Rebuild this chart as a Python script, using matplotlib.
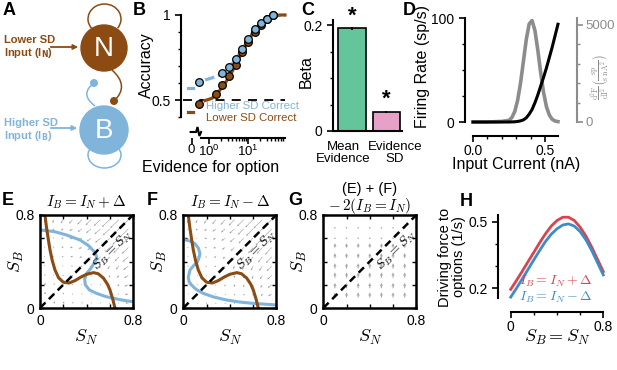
import numpy as np
import matplotlib
matplotlib.use('Agg')
import matplotlib.pyplot as plt
import matplotlib.transforms as mtransforms
from matplotlib.patches import Circle, Arc, FancyArrowPatch, PathPatch
from matplotlib.path import Path

plt.rcParams['font.family'] = ['Liberation Sans', 'DejaVu Sans']
plt.rcParams['mathtext.fontset'] = 'cm'
plt.rcParams['axes.linewidth'] = 1.5
plt.rcParams['xtick.major.width'] = 1.2
plt.rcParams['ytick.major.width'] = 1.2
plt.rcParams['xtick.minor.width'] = 1.0
plt.rcParams['ytick.minor.width'] = 1.0
plt.rcParams['xtick.major.size'] = 4
plt.rcParams['ytick.major.size'] = 4
plt.rcParams['xtick.minor.size'] = 2.5
plt.rcParams['ytick.minor.size'] = 2.5
plt.rcParams['xtick.labelsize'] = 10
plt.rcParams['ytick.labelsize'] = 10

BROWN = '#8b4b12'
LBLUE = '#80b4da'
RED = '#d8434f'
BLUE = '#3c8dc5'
GRAY = '#8c8c8c'

# ---------------- data ----------------
# B: accuracy vs evidence (zero-evidence values kept separately)
ev_blue = [2.2, 3.3, 4.9, 6.9, 10.2, 15, 22, 31, 43]
acc_blue = [0.661, 0.696, 0.739, 0.798, 0.857, 0.916, 0.951, 0.976, 1.0]
ev_brown = [1.5, 2.2, 3.3, 4.9, 6.9, 10, 15, 22, 31, 43]
acc_brown = [0.535, 0.588, 0.641, 0.706, 0.784, 0.843, 0.902, 0.941, 0.975, 1.0]
acc0_blue = 0.608
acc0_brown = 0.475
fit_ev = [0.8, 1.2, 1.8, 2.7, 4, 6, 9, 13, 20, 30, 45, 70, 89]
fit_blue = [0.618, 0.63, 0.645, 0.675, 0.715, 0.77, 0.835, 0.895, 0.945, 0.978, 0.995, 1.0, 1.0]
fit_brown = [0.497, 0.51, 0.55, 0.605, 0.67, 0.75, 0.825, 0.89, 0.94, 0.975, 0.995, 1.0, 1.0]
fit0_blue = 0.57
fit0_brown = 0.43
legend_B = ['Higher SD Correct', 'Lower SD Correct']

# C: regression weights
beta_labels = ['Mean\nEvidence', 'Evidence\nSD']
beta_vals = [0.194, 0.036]
beta_err = [0.002, 0.002]
beta_colors = ['#64c49c', '#e7a1c9']

# D: transfer function and its second derivative
current = [0.0, 0.1, 0.2, 0.25, 0.27, 0.29, 0.31, 0.33, 0.35, 0.37, 0.39, 0.41,
           0.43, 0.45, 0.47, 0.49, 0.51, 0.53, 0.55, 0.57, 0.59]
rate = [0, 0, 0, 0, 0.1, 0.2, 0.5, 1.1, 2, 4, 7.5, 12,
        18.5, 26, 34.5, 43, 52, 62, 72, 83, 94]
d2f = [0, 0, 30, 85, 230, 540, 1120, 2000, 3120, 4250, 5050, 5230,
       4720, 3710, 2540, 1520, 790, 360, 140, 50, 20]

# E/F: nullclines (S_N, S_B)
nullN_sn = [0.043, 0.055, 0.07, 0.086, 0.105, 0.129, 0.16, 0.2, 0.25, 0.3, 0.35,
            0.4, 0.46, 0.5, 0.545, 0.58, 0.602, 0.625, 0.645]
nullN_sb = [0.8, 0.7, 0.6, 0.5, 0.41, 0.327, 0.26, 0.222, 0.215, 0.235, 0.265,
            0.29, 0.304, 0.295, 0.258, 0.205, 0.155, 0.08, 0.0]
nullBE_sn = [0.0, 0.12, 0.229, 0.344, 0.42, 0.47, 0.488, 0.475, 0.44, 0.4, 0.384,
             0.39, 0.425, 0.487, 0.56, 0.631, 0.72, 0.8]
nullBE_sb = [0.671, 0.658, 0.628, 0.585, 0.535, 0.48, 0.44, 0.4, 0.345, 0.295, 0.247,
             0.2, 0.155, 0.126, 0.1, 0.083, 0.066, 0.054]
nullBF_sn = [0.006, 0.06, 0.1, 0.13, 0.143, 0.135, 0.12, 0.085, 0.057, 0.043, 0.05,
             0.071, 0.11, 0.171, 0.26, 0.371, 0.48, 0.6, 0.8]
nullBF_sb = [0.589, 0.575, 0.554, 0.515, 0.469, 0.43, 0.397, 0.36, 0.326, 0.263, 0.225,
             0.197, 0.16, 0.126, 0.095, 0.069, 0.052, 0.04, 0.026]

# E/F: flow field, dS_N/dt on grid (rows: S_B, cols: S_N); dS_B/dt by symmetry + input term
QGRID = [0.04, 0.12, 0.20, 0.28, 0.36, 0.44, 0.52, 0.60, 0.68, 0.76]
U_N = [
    [0.03, 0.03, 0.03, 0.02, 0.015, 0.015, 0.02, 0.015, -0.03, -0.09],
    [0.03, 0.025, 0.02, 0.01, 0.005, 0.01, 0.015, 0.005, -0.04, -0.10],
    [0.025, 0.015, 0.0, -0.01, -0.01, 0.0, 0.005, -0.01, -0.05, -0.11],
    [0.015, -0.005, -0.02, -0.025, -0.01, 0.0, -0.005, -0.025, -0.065, -0.12],
    [0.01, -0.015, -0.035, -0.045, -0.045, -0.04, -0.045, -0.06, -0.09, -0.14],
    [0.005, -0.025, -0.045, -0.06, -0.07, -0.075, -0.085, -0.1, -0.12, -0.16],
    [0.0, -0.03, -0.055, -0.075, -0.09, -0.105, -0.12, -0.135, -0.155, -0.18],
    [-0.005, -0.035, -0.06, -0.085, -0.105, -0.125, -0.145, -0.165, -0.185, -0.21],
    [-0.01, -0.04, -0.065, -0.09, -0.115, -0.14, -0.165, -0.19, -0.215, -0.24],
    [-0.01, -0.04, -0.07, -0.095, -0.125, -0.155, -0.185, -0.215, -0.245, -0.27],
]
DV_E = [0.03, 0.028, 0.026, 0.024, 0.021, 0.018, 0.015, 0.012, 0.009, 0.006]
DV_F = [-0.02, -0.019, -0.018, -0.016, -0.014, -0.012, -0.01, -0.008, -0.006, -0.004]

# G: net extra drive to B (vertical only)
G_X = [0.1, 0.2, 0.3, 0.4, 0.5, 0.6, 0.7]
G_Y = [0.09, 0.17, 0.26, 0.34, 0.43, 0.52, 0.60, 0.69]
G_V = [0.030, 0.031, 0.031, 0.030, 0.028, 0.025, 0.006, 0.003]

# H: driving force along diagonal
H_S = [0, 0.05, 0.1, 0.15, 0.2, 0.25, 0.3, 0.35, 0.4, 0.45, 0.5, 0.55, 0.6, 0.65, 0.7, 0.75, 0.8]
H_plus = [0.195, 0.235, 0.277, 0.32, 0.362, 0.405, 0.445, 0.48, 0.505, 0.52, 0.52,
          0.505, 0.475, 0.435, 0.385, 0.33, 0.275]
H_minus = [0.16, 0.2, 0.242, 0.285, 0.328, 0.37, 0.41, 0.443, 0.468, 0.485, 0.49,
           0.48, 0.455, 0.418, 0.37, 0.315, 0.26]

# ---------------- figure ----------------
W, H = 617, 370
fig = plt.figure(figsize=(W / 100, H / 100), dpi=100)


def box(x0, y0, x1, y1):
    # pixel box (top-left origin) -> figure fraction
    return [x0 / W, 1 - y1 / H, (x1 - x0) / W, (y1 - y0) / H]


def ftext(x, y, s, **kw):
    return fig.text(x / W, 1 - y / H, s, **kw)


for lab, x, y in [('A', 3, 2), ('B', 133, 2), ('C', 301, 2), ('D', 403, 2),
                  ('E', 2, 192), ('F', 147, 192), ('G', 288, 192), ('H', 460, 193)]:
    ftext(x, y, lab, fontsize=13, fontweight='bold', va='top')

# ---- A: circuit schematic ----
axA = fig.add_axes(box(0, 0, 140, 185))
axA.set_xlim(0, 140)
axA.set_ylim(0, 185)
axA.axis('off')


def yA(y):
    return 185 - y


axA.add_patch(Circle((104, yA(48)), 23, color=BROWN, zorder=3))
axA.add_patch(Circle((104, yA(130)), 24, color=LBLUE, zorder=3))
axA.text(104, yA(49), 'N', color='white', fontsize=20, ha='center', va='center', zorder=4)
axA.text(104, yA(131), 'B', color='white', fontsize=20, ha='center', va='center', zorder=4)
axA.add_patch(Arc((104.5, yA(19)), 33, 30, theta1=-35, theta2=217, color=BROWN, lw=1.1))
axA.add_patch(Arc((104.5, yA(155)), 33, 26, theta1=147, theta2=30, color=LBLUE, lw=1.1))
pb = Path([(112, yA(70)), (130, yA(86)), (114, yA(101))], [Path.MOVETO, Path.CURVE3, Path.CURVE3])
axA.add_patch(PathPatch(pb, fc='none', ec=BROWN, lw=1.1))
axA.add_patch(Circle((114, yA(101)), 3.3, color=BROWN))
pl = Path([(95, yA(106)), (79, yA(94)), (94, yA(83))], [Path.MOVETO, Path.CURVE3, Path.CURVE3])
axA.add_patch(PathPatch(pl, fc='none', ec=LBLUE, lw=1.1))
axA.add_patch(Circle((94, yA(83)), 3.3, color=LBLUE))
axA.add_patch(FancyArrowPatch((48, yA(47)), (81, yA(47)), arrowstyle='-|>',
                              mutation_scale=7, color=BROWN, lw=1.3))
axA.add_patch(FancyArrowPatch((48, yA(128)), (80, yA(128)), arrowstyle='-|>',
                              mutation_scale=7, color=LBLUE, lw=1.3))
axA.text(4, yA(40), 'Lower SD', color=BROWN, fontsize=8, fontweight='bold', va='center')
axA.text(4, yA(53), r'Input (I$_{\mathbf{N}}$)', color=BROWN, fontsize=8, fontweight='bold',
         va='center', math_fontfamily='dejavusans')
axA.text(4, yA(123), 'Higher SD', color=LBLUE, fontsize=8, fontweight='bold', va='center')
axA.text(4, yA(136), r'Input (I$_{\mathbf{B}}$)', color=LBLUE, fontsize=8, fontweight='bold',
         va='center', math_fontfamily='dejavusans')

# ---- B: psychometric curves ----
ZERO_X = 0.36        # axis position standing for zero evidence
ZERO_PT = 0.56       # where zero-evidence points sit
axB = fig.add_axes(box(184, 15, 285, 117))
axB.set_xscale('log')
axB.set_xlim(0.23, 89)
axB.set_ylim(0.4, 1.0)
for s in ['top', 'right']:
    axB.spines[s].set_visible(False)
axB.spines['left'].set_position(('outward', 2))
axB.spines['bottom'].set_position(('outward', 15))
axB.spines['bottom'].set_bounds(0.63, 89)
axB.set_yticks([0.5, 1.0])
axB.set_yticklabels(['0.5', '1'])
axB.set_yticks([0.4, 0.6, 0.7, 0.8, 0.9], minor=True)
axB.set_xticks([ZERO_X, 1, 10])
axB.set_xticklabels(['0', r'$\mathdefault{10^{0}}$', r'$\mathdefault{10^{1}}$'])
axB.set_xticks([2, 3, 4, 5, 6, 7, 8, 9, 20, 30, 40, 50, 60, 70, 80], minor=True)
axB.xaxis.set_minor_formatter(matplotlib.ticker.NullFormatter())
axB.tick_params(axis='x', which='both', pad=0.5, labelsize=9.5)
tb = mtransforms.blended_transform_factory(axB.transData, axB.transAxes)
yb = -15 / 102
zz = 5 / 102
axB.plot([0.34, 0.47, 0.51, 0.57, 0.63], [yb, yb, yb + zz, yb - zz * 0.8, yb],
         color='black', lw=1.5, transform=tb, clip_on=False, solid_joinstyle='miter')
axB.plot([0.215, 89], [0.5, 0.5], color='black', lw=1.3, ls=(0, (5, 4)), clip_on=False)
axB.plot(fit_ev, fit_blue, color=LBLUE, lw=2.3, ls=(0, (3, 1.2)), clip_on=False, zorder=2)
axB.plot(fit_ev, fit_brown, color=BROWN, lw=2.3, clip_on=False, zorder=2)
axB.plot([0.29, 0.4], [fit0_blue] * 2, color=LBLUE, lw=2.3, clip_on=False)
axB.plot([0.29, 0.4], [fit0_brown] * 2, color=BROWN, lw=2.3, clip_on=False)
axB.plot(ev_brown + [ZERO_PT], acc_brown + [acc0_brown], 'o', color=BROWN, mec='black',
         mew=0.9, ms=5.5, clip_on=False, zorder=3)
axB.plot(ev_blue + [ZERO_PT], acc_blue + [acc0_blue], 'o', color=LBLUE, mec='black',
         mew=0.9, ms=5.5, clip_on=False, zorder=4)
axB.text(0.82, 0.465, legend_B[0], color=LBLUE, fontsize=8.2, va='center', clip_on=False)
axB.text(0.82, 0.394, legend_B[1], color=BROWN, fontsize=8.2, va='center', clip_on=False)
ftext(146, 65, 'Accuracy', fontsize=11.5, rotation=90, ha='center', va='center')
ftext(211, 167, 'Evidence for option', fontsize=11.5, ha='center', va='center')

# ---- C: betas ----
axC = fig.add_axes(box(333, 20, 402, 131))
xc = np.arange(len(beta_vals))
axC.bar(xc, beta_vals, width=0.8, color=beta_colors, edgecolor='black', lw=1.2,
        yerr=beta_err, error_kw=dict(lw=1.2, capsize=0))
axC.set_xlim(-0.55, 1.45)
axC.set_ylim(0, 0.21)
for s in ['top', 'right']:
    axC.spines[s].set_visible(False)
axC.set_yticks([0, 0.2])
axC.set_yticklabels(['0', '0.2'])
axC.set_yticks([0.05, 0.1, 0.15], minor=True)
axC.set_xticks([])
for i, v in enumerate(beta_vals):
    axC.text(xc[i], v + 0.004, '*', fontsize=16, fontweight='bold', ha='center', va='bottom')
ftext(343, 153, beta_labels[0], fontsize=9.5, ha='center', va='center', linespacing=1.05)
ftext(395, 153, beta_labels[1], fontsize=9.5, ha='center', va='center', linespacing=1.05)
ftext(306, 72, 'Beta', fontsize=11.5, rotation=90, ha='center', va='center')

# ---- D: transfer function ----
axD = fig.add_axes(box(473, 18, 559.4, 122))
axD2 = axD.twinx()
axD.set_zorder(axD2.get_zorder() + 1)
axD.patch.set_visible(False)
axD.set_xlim(0, 0.6)
axD.set_ylim(0, 100)
axD2.set_ylim(0, 5360)
for s in ['top', 'right']:
    axD.spines[s].set_visible(False)
for s in ['top', 'left', 'bottom']:
    axD2.spines[s].set_visible(False)
axD.spines['left'].set_position(('outward', 6))
axD.spines['bottom'].set_position(('outward', 10))
axD.spines['bottom'].set_bounds(0, 0.59)
axD2.spines['right'].set_position(('outward', 13))
axD2.spines['right'].set_color(GRAY)
axD.plot(current, rate, color='black', lw=2.2, clip_on=False)
axD2.plot(current, d2f, color=GRAY, lw=2.6, clip_on=False)
axD.set_yticks([0, 100])
axD.set_yticks([25, 50, 75], minor=True)
axD.set_xticks([0, 0.5])
axD.set_xticklabels(['0.0', '0.5'])
axD.set_xticks([0.1, 0.2, 0.3, 0.4], minor=True)
axD.tick_params(axis='x', which='both', pad=2)
axD2.set_yticks([0, 5000])
axD2.set_yticks([1000, 2000, 3000, 4000], minor=True)
axD2.tick_params(axis='y', which='both', colors=GRAY, labelcolor=GRAY, labelsize=9.5, pad=2)
ftext(423, 67, 'Firing Rate (sp/s)', fontsize=11.5, rotation=90, ha='center', va='center')
ftext(516, 165, 'Input Current (nA)', fontsize=11.5, ha='center', va='center')
ftext(600, 77, r'$\frac{\mathrm{d^2F}}{\mathrm{dI^2}}\left(\frac{\mathrm{sp}}{\mathrm{s\ nA^2}}\right)$',
      fontsize=8, color=GRAY, rotation=90, ha='center', va='center')


# ---- E, F, G: phase planes ----
def phase_axes(x0):
    ax = fig.add_axes(box(x0, 215, x0 + 93, 308))
    ax.set_xlim(0, 0.8)
    ax.set_ylim(0, 0.8)
    for s in ax.spines.values():
        s.set_linewidth(1.8)
    ax.set_xticks([0, 0.2, 0.4, 0.6, 0.8])
    ax.set_yticks([0, 0.2, 0.4, 0.6, 0.8])
    ax.set_xticklabels(['0', '', '', '', '0.8'])
    ax.set_yticklabels(['0', '', '', '', '0.8'])
    ax.tick_params(direction='in', top=True, right=True, length=3, width=1, pad=4)
    ax.plot([0, 0.8], [0, 0.8], color='black', lw=1.8, ls=(0, (3, 2)), zorder=3)
    ax.text(0.63, 0.5, r'$S_B = S_N$', fontsize=10, rotation=45, ha='center', va='center', zorder=4)
    ftext(x0 + 46.5, 337, r'$S_N$', fontsize=13, ha='center', va='center')
    ftext(x0 - 24, 262, r'$S_B$', fontsize=13, rotation=90, ha='center', va='center')
    return ax


QX, QY = np.meshgrid(QGRID, QGRID)
U_arr = np.array(U_N)
quiv_kw = dict(color='#9c9c9c', angles='xy', scale_units='xy', scale=3.2, width=0.006,
               headwidth=3.5, headlength=4, headaxislength=3.5, minlength=2, zorder=1)

axE = phase_axes(40)
axE.quiver(QX, QY, U_arr, U_arr.T + np.array(DV_E)[:, None], **quiv_kw)
axE.plot(nullBE_sn, nullBE_sb, color=LBLUE, lw=2.2, zorder=2)
axE.plot(nullN_sn, nullN_sb, color=BROWN, lw=2.2, zorder=2)
ftext(86.5, 202, r'$I_B = I_N + \Delta$', fontsize=11, ha='center', va='center')

axF = phase_axes(183.3)
axF.quiver(QX, QY, U_arr, U_arr.T + np.array(DV_F)[:, None], **quiv_kw)
axF.plot(nullBF_sn, nullBF_sb, color=LBLUE, lw=2.2, zorder=2)
axF.plot(nullN_sn, nullN_sb, color=BROWN, lw=2.2, zorder=2)
ftext(229.8, 202, r'$I_B = I_N - \Delta$', fontsize=11, ha='center', va='center')

axG = phase_axes(323.3)
GX, GY = np.meshgrid(G_X, G_Y)
GV = np.repeat(np.array(G_V)[:, None], len(G_X), axis=1)
axG.quiver(GX, GY, np.zeros_like(GV), GV, color='#a8a8a8', angles='xy', scale_units='xy',
           scale=0.67, width=0.012, headwidth=3, headlength=3, headaxislength=2.7,
           minlength=1.5, zorder=1)
ftext(369.8, 189, '(E) + (F)', fontsize=10.5, ha='center', va='center')
ftext(369.8, 206, r'$-\,2(I_B = I_N)$', fontsize=11, ha='center', va='center')

# ---- H: driving force ----
axH = fig.add_axes(box(510.7, 215, 603.3, 298))
axH.set_xlim(0, 0.8)
axH.set_ylim(0.156, 0.53)
for s in ['top', 'right']:
    axH.spines[s].set_visible(False)
axH.spines['left'].set_position(('outward', 9))
axH.spines['bottom'].set_position(('outward', 10))
axH.plot(H_S, H_plus, color=RED, lw=2, clip_on=False)
axH.plot(H_S, H_minus, color=BLUE, lw=2, clip_on=False)
axH.set_yticks([0.2, 0.5])
axH.set_yticks([0.3, 0.4], minor=True)
axH.set_xticks([0, 0.8])
axH.set_xticklabels(['0', '0.8'])
axH.set_xticks([0.2, 0.4, 0.6], minor=True)
axH.tick_params(axis='x', which='both', pad=2)
axH.text(0.39, 0.232, r'$I_B = I_N + \Delta$', color=RED, fontsize=10, ha='center', va='center')
axH.text(0.39, 0.158, r'$I_B = I_N - \Delta$', color=BLUE, fontsize=10, ha='center', va='center')
ftext(452, 257, 'Driving force to\noptions (1/s)', fontsize=10.5, rotation=90,
      ha='center', va='center', linespacing=1.0)
ftext(557, 337, r'$S_B = S_N$', fontsize=13, ha='center', va='center')

fig.savefig('out.png', dpi=100)
